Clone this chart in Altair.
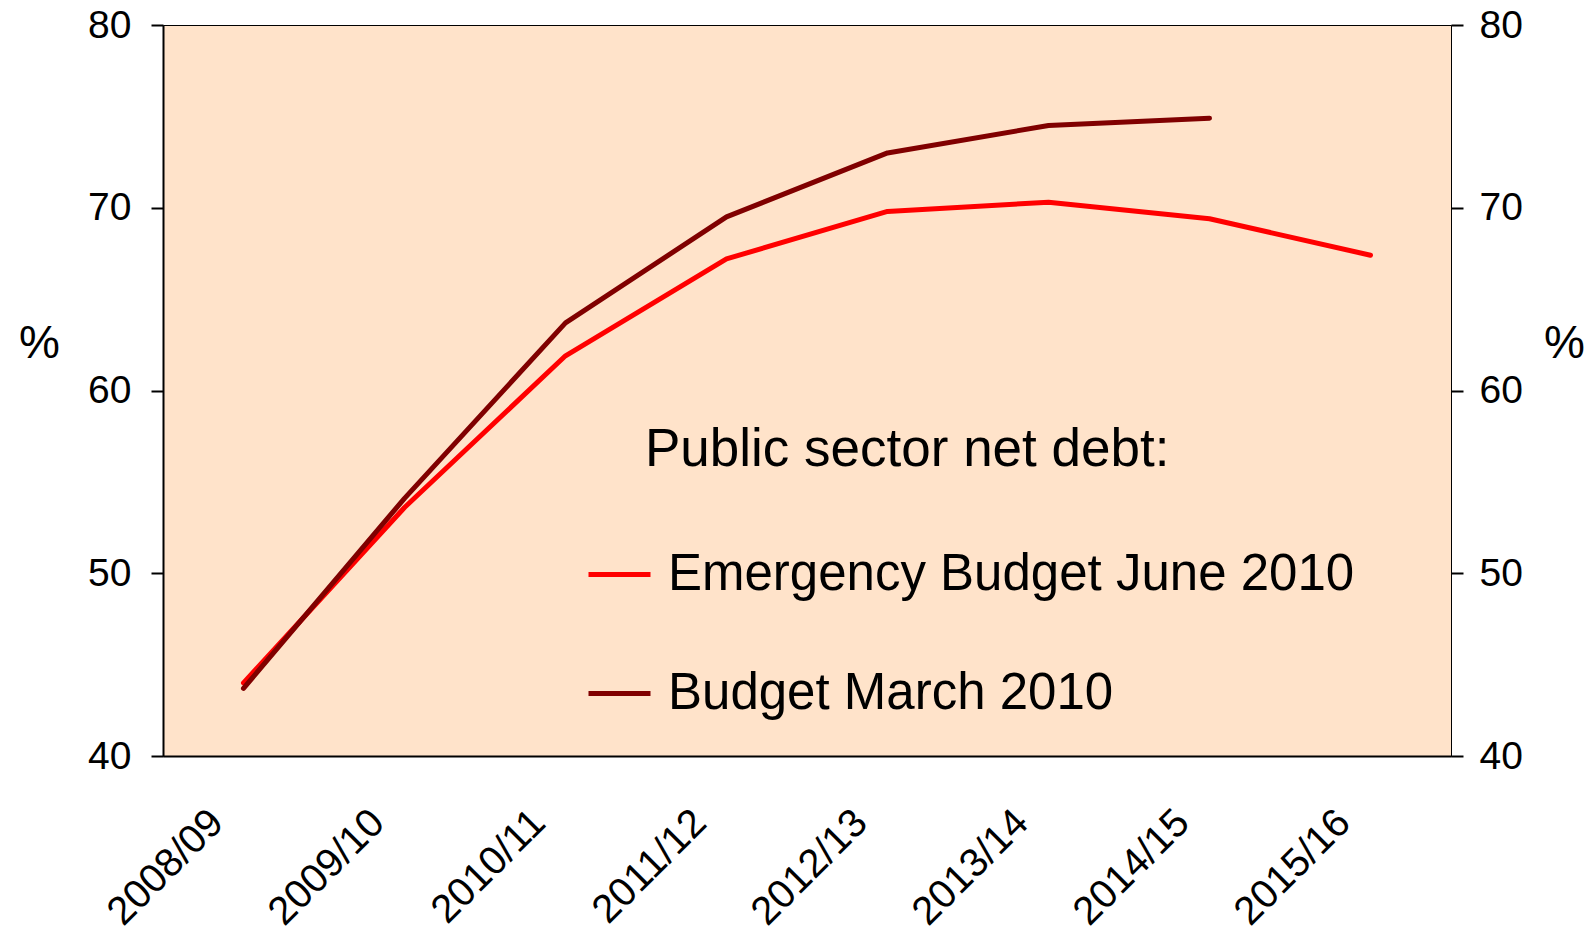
import altair as alt
import pandas as pd

years = ["2008/09", "2009/10", "2010/11", "2011/12", "2012/13", "2013/14", "2014/15", "2015/16"]
emergency_june_2010 = [44.0, 53.6, 61.9, 67.2, 69.8, 70.3, 69.4, 67.4]
budget_march_2010 = [43.7, 54.1, 63.7, 69.5, 73.0, 74.5, 74.9, None]
series_names = ["Emergency Budget June 2010", "Budget March 2010"]
series_colors = ["#FF0000", "#800000"]
y_ticks = [40, 50, 60, 70, 80]

rows = []
for name, vals in zip(series_names, [emergency_june_2010, budget_march_2010]):
    for yr, v in zip(years, vals):
        if v is not None:
            rows.append({"year": yr, "value": v, "series": name})
df = pd.DataFrame(rows)

FONT = "Liberation Sans"
W, H = 1288, 731

xscale = alt.Scale(type="point", padding=0.5, domain=years)
yscale = alt.Scale(domain=[40, 80], nice=False, zero=False)

x_axis = alt.Axis(title=None, labelAngle=-45, labelAlign="right", labelBaseline="middle",
                  ticks=False, labelPadding=60, labelOffset=-27, labelFontSize=40,
                  labelFont=FONT, labelColor="black", domainColor="black", domainWidth=2)
x_enc = alt.X("year:N", scale=xscale, sort=years, axis=x_axis)

lines = alt.Chart(df).mark_line(strokeWidth=5, strokeCap="round", strokeJoin="round").encode(
    x=x_enc,
    y=alt.Y("value:Q", scale=yscale,
            axis=alt.Axis(orient="left", values=y_ticks, grid=False, tickSize=12, tickWidth=2,
                          tickColor="black", domainColor="black", domainWidth=2,
                          labelFontSize=39, labelFont=FONT, labelColor="black", labelPadding=20,
                          title="%", titleAngle=0, titleFontSize=46, titleFont=FONT,
                          titleFontWeight="normal", titleColor="black", titleX=-124, titleY=318,
                          titleAlign="center", titleBaseline="middle")),
    color=alt.Color("series:N", scale=alt.Scale(domain=series_names, range=series_colors),
                    legend=alt.Legend(orient="none", legendX=423, legendY=516, title=None,
                                      symbolType="stroke", symbolSize=3844, symbolStrokeWidth=5,
                                      labelFontSize=51, labelFont=FONT, labelColor="black",
                                      labelOffset=15, rowPadding=60, padding=0, labelLimit=0)),
    detail="series:N",
)

right = alt.Chart(df).mark_line(opacity=0).encode(
    x=x_enc,
    y=alt.Y("value:Q", scale=yscale,
            axis=alt.Axis(orient="right", values=y_ticks, grid=False, tickSize=12, tickWidth=2,
                          tickColor="black", domainColor="black", domainWidth=1,
                          labelFontSize=39, labelFont=FONT, labelColor="black", labelPadding=16,
                          title="%", titleAngle=0, titleFontSize=46, titleFont=FONT,
                          titleFontWeight="normal", titleColor="black", titleX=113, titleY=318,
                          titleAlign="center", titleBaseline="middle")),
)

legend_title = alt.Chart(pd.DataFrame({"t": ["Public sector net debt:"]})).mark_text(
    font=FONT, fontSize=53, align="left", baseline="alphabetic", color="black"
).encode(x=alt.value(482), y=alt.value(441), text="t:N")

chart = alt.layer(lines, right, legend_title).resolve_scale(y="independent").properties(
    width=W, height=H,
    autosize=alt.AutoSizeParams(type="none"),
    padding={"left": 155, "top": 17, "right": 136, "bottom": 179},
).configure_view(fill="#FFE3CA", stroke="black", strokeWidth=1)

chart.save("out.html", embed_options={"renderer": "svg", "actions": False})
